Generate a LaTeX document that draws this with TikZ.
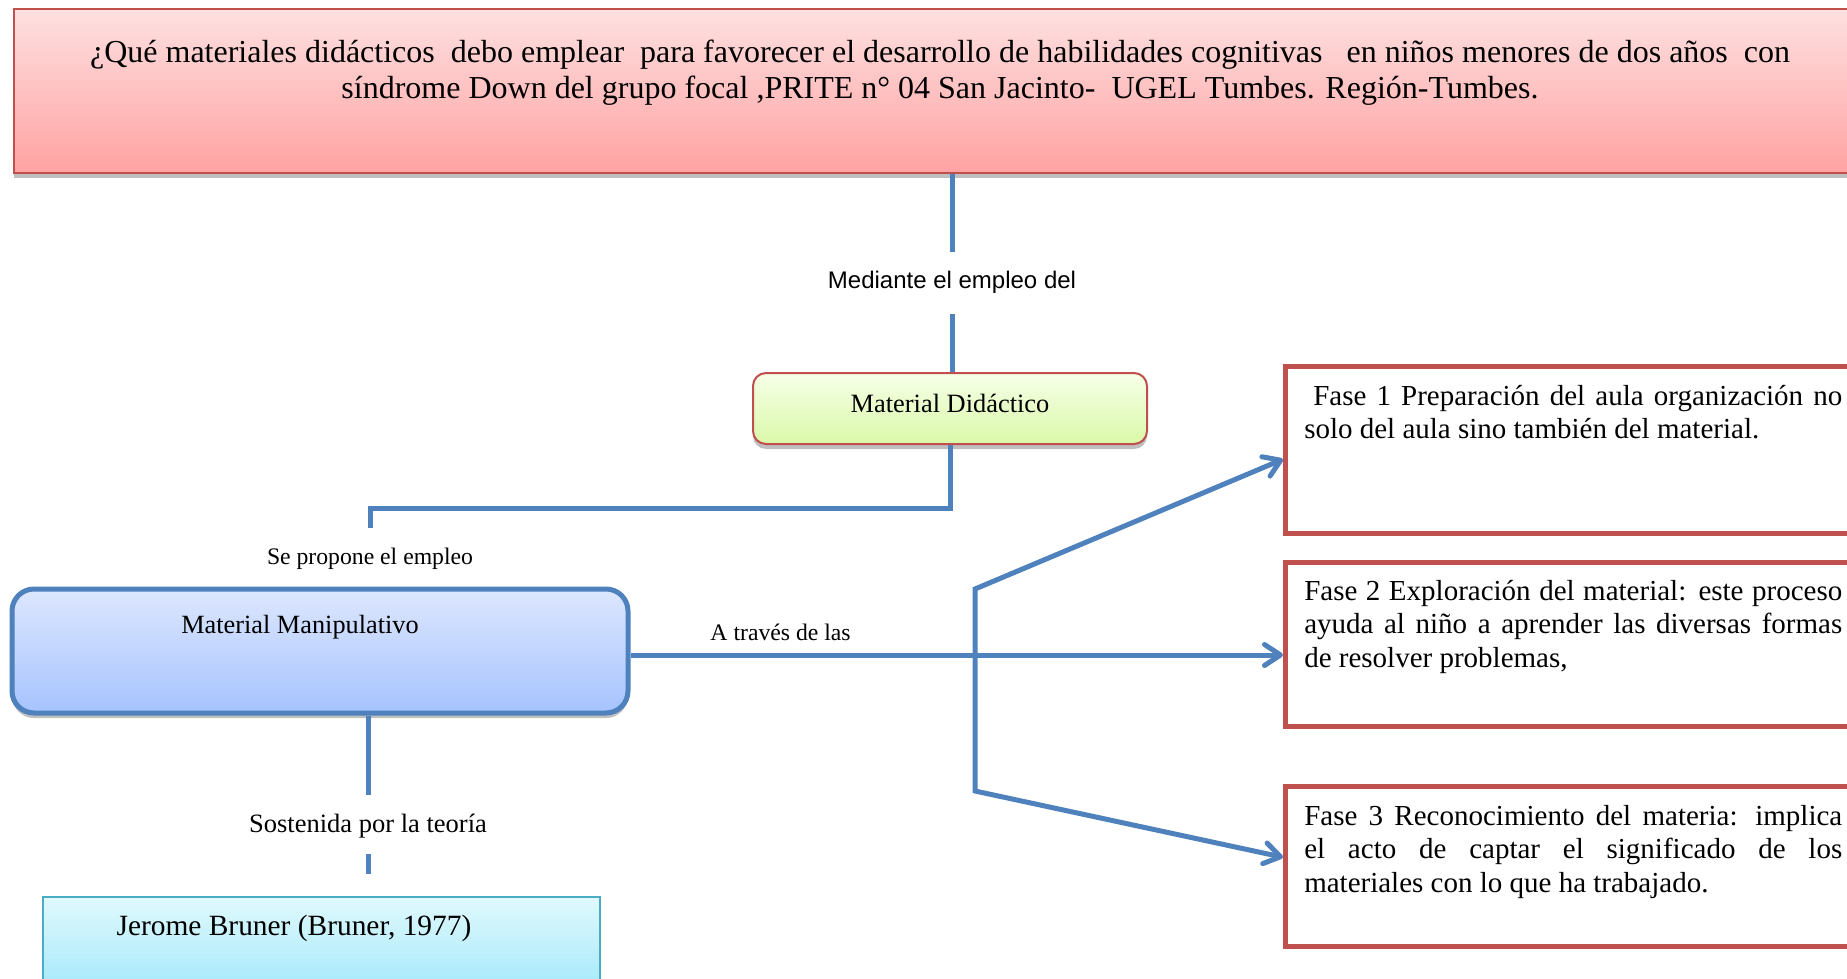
\documentclass[tikz,border=0pt]{standalone}
\usepackage{fontspec}
\setmainfont{Liberation Serif}
\newfontfamily\arialfont{Liberation Sans}
\usetikzlibrary{arrows.meta, positioning, shadows}
\definecolor{azul}{HTML}{4F81BD}
\definecolor{rojo}{HTML}{C0504D}
\definecolor{turquesa}{HTML}{4BACC6}
\tolerance=10000
\hyphenpenalty=10000

\begin{document}
\begin{tikzpicture}[x=1pt, y=-1pt,
  punta/.tip={Straight Barb[length=16pt, width=21pt, round]},
  conector/.style={draw=azul, line width=5pt},
  flecha/.style={conector, -punta},
  etiqueta/.style={inner sep=0pt, font=\fontsize{23.7}{27}\selectfont},
  sombra/.style={drop shadow={shadow xshift=0pt, shadow yshift=-5pt, opacity=0.25, fill=black}},
  fase/.style={draw=rojo, line width=4.5pt, anchor=north west, text width=538pt, inner xsep=19pt, inner ysep=0pt, text height=20pt, align=justify, font=\fontsize{29}{33.5}\selectfont}]
\useasboundingbox (0,0) rectangle (1847,979);
%question
\node[sombra, draw=rojo, line width=2pt, top color={rgb,255:red,254;green,224;blue,224}, bottom color={rgb,255:red,255;green,162;blue,162}, minimum width=1852pt, minimum height=164pt, anchor=north west] (pregunta) at (13,8) {};
\node[anchor=base, align=center, font=\fontsize{32}{36.5}\selectfont] (titulo) at (940,99) {¿Qué materiales didácticos\ \ debo emplear\ \ para favorecer el desarrollo de habilidades cognitivas\ \ \ en niños menores de dos años\ \ con\\síndrome Down del grupo focal ,PRITE n° 04 San Jacinto-\ \ UGEL Tumbes. Región-Tumbes.};
%center boxes
\node[etiqueta, font=\arialfont\fontsize{24}{28}\selectfont, anchor=base] (mediante) at (952,288) {Mediante el empleo del};
\node[sombra, draw=rojo, line width=2pt, rounded corners=13pt, top color={rgb,255:red,246;green,255;blue,232}, bottom color={rgb,255:red,218;green,249;blue,168}, minimum width=394pt, minimum height=71pt, text height=18pt, text depth=11pt, font=\fontsize{26.4}{30}\selectfont] (didactico) at (950,408.5) {Material Didáctico};
\draw[conector, shorten >=18pt] (pregunta.south -| mediante.north) -- (mediante.north);
\draw[conector, shorten <=21pt] (mediante.south) -- (mediante.south |- didactico.north);
%left boxes
\node[etiqueta, anchor=base] (propone) at (370,564) {Se propone el empleo};
\node[sombra, draw=azul, line width=5pt, rounded corners=22pt, top color={rgb,255:red,221;green,231;blue,254}, bottom color={rgb,255:red,166;green,195;blue,254}, minimum width=616pt, minimum height=124pt, text height=18.5pt, text depth=54.5pt, font=\fontsize{26.3}{30}\selectfont] (manipulativo) at (320,651) {Material Manipulativo\hspace*{40pt}};
\node[etiqueta, font=\fontsize{26.5}{30}\selectfont, anchor=base] (sostenida) at (368,832) {Sostenida por la teoría};
\node[draw=turquesa, line width=2pt, top color={rgb,255:red,224;green,249;blue,253}, bottom color={rgb,255:red,158;green,231;blue,251}, minimum width=557pt, minimum height=103pt, text height=20pt, text depth=47pt, font=\fontsize{29.4}{33}\selectfont] (bruner) at (321.5,948.5) {Jerome Bruner (Bruner, 1977)\hspace*{55pt}};
\draw[conector, shorten >=19pt] (didactico.south) -- ++(0,63) -| (propone.north);
\draw[conector, shorten >=18pt] (sostenida.north |- manipulativo.south) -- (sostenida.north);
\draw[conector, shorten <=16pt, shorten >=22pt] (sostenida.south) -- (sostenida.south |- bruner.north);
%right boxes
\node[fase, minimum height=167pt, text depth=109pt] (fase1) at (1283,364) {\hspace*{9pt}Fase 1 Preparación del aula organización no\linebreak solo del aula sino también del material.};
\node[fase, minimum height=164pt, text depth=108pt] (fase2) at (1283,560) {Fase 2 Exploración del material: este proceso\linebreak ayuda al niño a aprender las diversas formas\linebreak de resolver problemas,};
\node[fase, minimum height=160pt, text depth=102pt] (fase3) at (1283,784) {Fase 3 Reconocimiento del materia: implica\linebreak el acto de captar el significado de los\linebreak materiales con lo que ha trabajado.};
%arrows
\coordinate (rama-arriba) at (975,589);
\coordinate (rama-abajo) at (975,791);
\draw[flecha] ([yshift=-4pt]manipulativo.east) -- ([yshift=-4pt]manipulativo.east -| fase2.west) node[etiqueta, pos=0.23, above=12pt] (traves) {A través de las};
\draw[conector, punta-punta] ([yshift=-9.5pt]fase1.west) -- (rama-arriba) -- (rama-abajo) -- ([yshift=9pt]fase3.west);
\end{tikzpicture}
\end{document}
